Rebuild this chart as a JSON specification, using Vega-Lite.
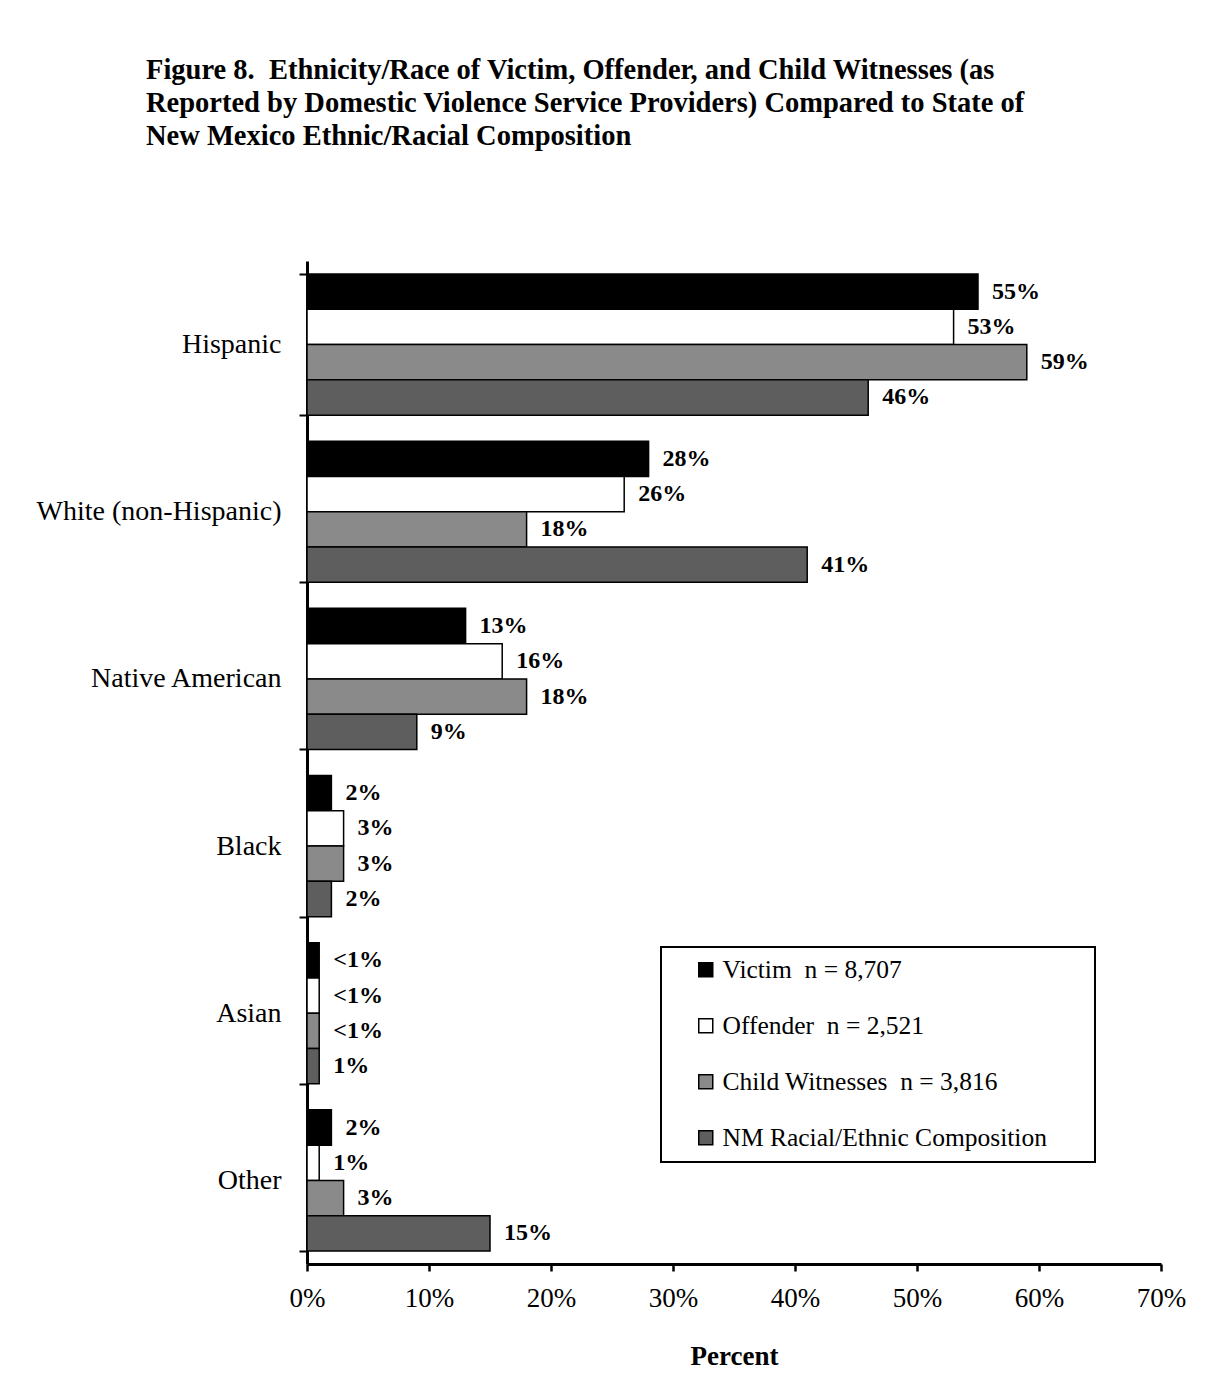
{
  "$schema": "https://vega.github.io/schema/vega-lite/v6.json",
  "width": 854,
  "height": 1003,
  "autosize": {"type": "none"},
  "padding": {"left": 307, "top": 261, "right": 47, "bottom": 131},
  "background": "white",
  "title": {
    "text": [
      "Figure 8.\u00a0 Ethnicity/Race of Victim, Offender, and Child Witnesses (as",
      "Reported by Domestic Violence Service Providers) Compared to State of",
      "New Mexico Ethnic/Racial Composition"
    ],
    "anchor": "start",
    "frame": "group",
    "dx": -161,
    "offset": 97,
    "font": "Liberation Serif",
    "fontSize": 28.5,
    "fontWeight": "bold",
    "lineHeight": 33,
    "color": "black"
  },
  "data": {
    "values": [
      {"cat": "Hispanic", "series": "Victim\u00a0 n = 8,707", "value": 55, "label": "55%"},
      {"cat": "Hispanic", "series": "Offender\u00a0 n = 2,521", "value": 53, "label": "53%"},
      {"cat": "Hispanic", "series": "Child Witnesses\u00a0 n = 3,816", "value": 59, "label": "59%"},
      {"cat": "Hispanic", "series": "NM Racial/Ethnic Composition", "value": 46, "label": "46%"},
      {"cat": "White (non-Hispanic)", "series": "Victim\u00a0 n = 8,707", "value": 28, "label": "28%"},
      {"cat": "White (non-Hispanic)", "series": "Offender\u00a0 n = 2,521", "value": 26, "label": "26%"},
      {"cat": "White (non-Hispanic)", "series": "Child Witnesses\u00a0 n = 3,816", "value": 18, "label": "18%"},
      {"cat": "White (non-Hispanic)", "series": "NM Racial/Ethnic Composition", "value": 41, "label": "41%"},
      {"cat": "Native American", "series": "Victim\u00a0 n = 8,707", "value": 13, "label": "13%"},
      {"cat": "Native American", "series": "Offender\u00a0 n = 2,521", "value": 16, "label": "16%"},
      {"cat": "Native American", "series": "Child Witnesses\u00a0 n = 3,816", "value": 18, "label": "18%"},
      {"cat": "Native American", "series": "NM Racial/Ethnic Composition", "value": 9, "label": "9%"},
      {"cat": "Black", "series": "Victim\u00a0 n = 8,707", "value": 2, "label": "2%"},
      {"cat": "Black", "series": "Offender\u00a0 n = 2,521", "value": 3, "label": "3%"},
      {"cat": "Black", "series": "Child Witnesses\u00a0 n = 3,816", "value": 3, "label": "3%"},
      {"cat": "Black", "series": "NM Racial/Ethnic Composition", "value": 2, "label": "2%"},
      {"cat": "Asian", "series": "Victim\u00a0 n = 8,707", "value": 1, "label": "<1%"},
      {"cat": "Asian", "series": "Offender\u00a0 n = 2,521", "value": 1, "label": "<1%"},
      {"cat": "Asian", "series": "Child Witnesses\u00a0 n = 3,816", "value": 1, "label": "<1%"},
      {"cat": "Asian", "series": "NM Racial/Ethnic Composition", "value": 1, "label": "1%"},
      {"cat": "Other", "series": "Victim\u00a0 n = 8,707", "value": 2, "label": "2%"},
      {"cat": "Other", "series": "Offender\u00a0 n = 2,521", "value": 1, "label": "1%"},
      {"cat": "Other", "series": "Child Witnesses\u00a0 n = 3,816", "value": 3, "label": "3%"},
      {"cat": "Other", "series": "NM Racial/Ethnic Composition", "value": 15, "label": "15%"}
    ]
  },
  "encoding": {
    "y": {
      "field": "cat",
      "type": "nominal",
      "sort": ["Hispanic", "White (non-Hispanic)", "Native American", "Black", "Asian", "Other"],
      "scale": {"paddingInner": 0.156, "paddingOuter": 0.078},
      "axis": {
        "title": null,
        "domainColor": "black",
        "domainWidth": 3,
        "tickColor": "black",
        "tickWidth": 2,
        "tickSize": 8,
        "tickBand": "extent",
        "labelFont": "Liberation Serif",
        "labelFontSize": 28,
        "labelColor": "black",
        "labelPadding": 18,
        "labelLimit": 400,
        "grid": false
      }
    },
    "yOffset": {
      "field": "series",
      "type": "nominal",
      "sort": ["Victim\u00a0 n = 8,707", "Offender\u00a0 n = 2,521", "Child Witnesses\u00a0 n = 3,816", "NM Racial/Ethnic Composition"],
      "scale": {"paddingInner": 0, "paddingOuter": 0}
    },
    "x": {
      "field": "value",
      "type": "quantitative",
      "scale": {"domain": [0, 70], "nice": false},
      "axis": {
        "title": "Percent",
        "values": [0, 10, 20, 30, 40, 50, 60, 70],
        "labelExpr": "datum.value + '%'",
        "labelFlush": false,
        "labelOverlap": false,
        "domainColor": "black",
        "domainWidth": 3,
        "tickColor": "black",
        "tickWidth": 2.5,
        "tickSize": 7,
        "labelFont": "Liberation Serif",
        "labelFontSize": 27,
        "labelColor": "black",
        "labelPadding": 14,
        "titleFont": "Liberation Serif",
        "titleFontSize": 27,
        "titleFontWeight": "bold",
        "titleColor": "black",
        "titlePadding": 32,
        "grid": false
      }
    }
  },
  "layer": [
    {
      "mark": {"type": "bar", "stroke": "black", "strokeWidth": 1.5},
      "encoding": {
        "fill": {
          "field": "series",
          "type": "nominal",
          "scale": {
            "domain": ["Victim\u00a0 n = 8,707", "Offender\u00a0 n = 2,521", "Child Witnesses\u00a0 n = 3,816", "NM Racial/Ethnic Composition"],
            "range": ["#000000", "#ffffff", "#8a8a8a", "#5e5e5e"]
          },
          "legend": {
            "title": null,
            "orient": "none",
            "legendX": 354,
            "legendY": 686,
            "symbolType": "square",
            "symbolSize": 196,
            "symbolStrokeColor": "black",
            "symbolStrokeWidth": 1.5,
            "labelFont": "Liberation Serif",
            "labelFontSize": 25.5,
            "labelColor": "black",
            "labelOffset": 4,
            "labelLimit": 600,
            "labelExpr": "datum.label + '\u2800\u2800'",
            "rowPadding": 29,
            "padding": 10,
            "symbolOffset": 22,
            "strokeColor": "black",
            "fillColor": "white"
          }
        }
      }
    },
    {
      "mark": {
        "type": "text",
        "align": "left",
        "baseline": "middle",
        "dx": 14,
        "font": "Liberation Serif",
        "fontSize": 24,
        "fontWeight": "bold",
        "color": "black"
      },
      "encoding": {
        "text": {"field": "label"}
      }
    }
  ],
  "config": {
    "view": {"stroke": null},
    "legend": {"strokeWidth": 2}
  }
}
